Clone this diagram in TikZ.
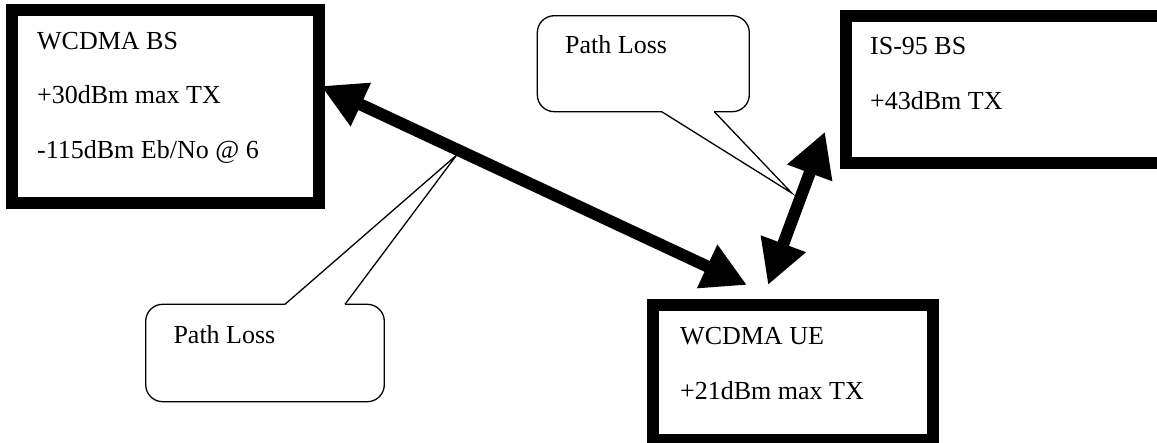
\documentclass[tikz,border=0pt]{standalone}
\usepackage{fontspec}
\setmainfont{Liberation Serif}
\usetikzlibrary{arrows.meta,calc}
\begin{document}
\begin{tikzpicture}[x=1pt,y=-1pt,
  frame/.style={draw=black, fill=white, line width=12pt, inner sep=0pt, outer sep=0pt},
  bubble/.style={draw=black, fill=white, line width=1.3pt, rounded corners=17pt, inner sep=0pt, outer sep=0pt},
  txt/.style={anchor=base west, inner sep=0pt, font=\fontsize{26}{30}\selectfont},
  link/.style={line width=12pt, {Triangle[length=44pt,width=45pt]}-{Triangle[length=44pt,width=45pt]}},
  tail/.style={line width=1.3pt, line join=miter}
]
\clip (0,0) rectangle (1157,443);
\fill[white] (0,0) rectangle (1157,443);

% speech bubbles
\node[bubble, minimum width=212pt, minimum height=96pt] (c1) at (643.3,63.7) {};
\coordinate (c1a) at ($(c1.south west)+(124.4,0)$);
\coordinate (c1b) at ($(c1.south west)+(177,0)$);
\coordinate (c1t) at ($(c1.south west)+(254.4,81.3)$);
\fill[white] ($(c1a)+(0,-2)$) rectangle ($(c1b)+(0,2)$);
\draw[tail] (c1a) -- (c1t) -- (c1b);
\node[txt] (c1l) at ($(c1.north west)+(27.7,37.6)$) {Path Loss};

\node[bubble, minimum width=238.6pt, minimum height=97.4pt] (c2) at (265,353) {};
\coordinate (c2a) at ($(c2.north west)+(139.3,0)$);
\coordinate (c2b) at ($(c2.north west)+(199.3,0)$);
\coordinate (c2t) at ($(c2.north west)+(311,-149.3)$);
\fill[white] ($(c2a)+(0,-2)$) rectangle ($(c2b)+(0,2)$);
\draw[tail] (c2a) -- (c2t) -- (c2b);
\node[txt] (c2l) at ($(c2.north west)+(27.6,39)$) {Path Loss};

% radio links
\coordinate (bsL) at (319,10.5);
\coordinate (ueL) at (653,305.5);
\coordinate (isL) at (845.5,163.5);
\coordinate (a1s) at ($(bsL)+(2,75.5)$);
\coordinate (a1e) at ($(ueL)+(94,-20.5)$);
\coordinate (a2s) at ($(ueL)+(115,-20.5)$);
\coordinate (a2e) at ($(isL)+(-20.5,-31.8)$);
\draw[link] (a1s) -- (a1e);
\draw[link] (a2s) -- (a2e);

% stations
\node[frame, minimum width=307.5pt, minimum height=192.5pt] (bs) at (165.25,106.75) {};
\node[frame, minimum width=354.5pt, minimum height=147.5pt] (is) at (1022.75,89.75) {};
\node[frame, minimum width=280pt, minimum height=134.5pt] (ue) at (793,372.75) {};

\node[txt] (bs1) at (37,50) {WCDMA BS};
\node[txt] (bs2) at (37,104) {+30dBm max TX};
\node[txt] (bs3) at (37,159) {-115dBm Eb/No @ 6};
\node[txt] (is1) at (870,55) {IS-95 BS};
\node[txt] (is2) at (870,110) {+43dBm TX};
\node[txt] (ue1) at (680,345) {WCDMA UE};
\node[txt] (ue2) at (680,400) {+21dBm max TX};
\end{tikzpicture}
\end{document}
